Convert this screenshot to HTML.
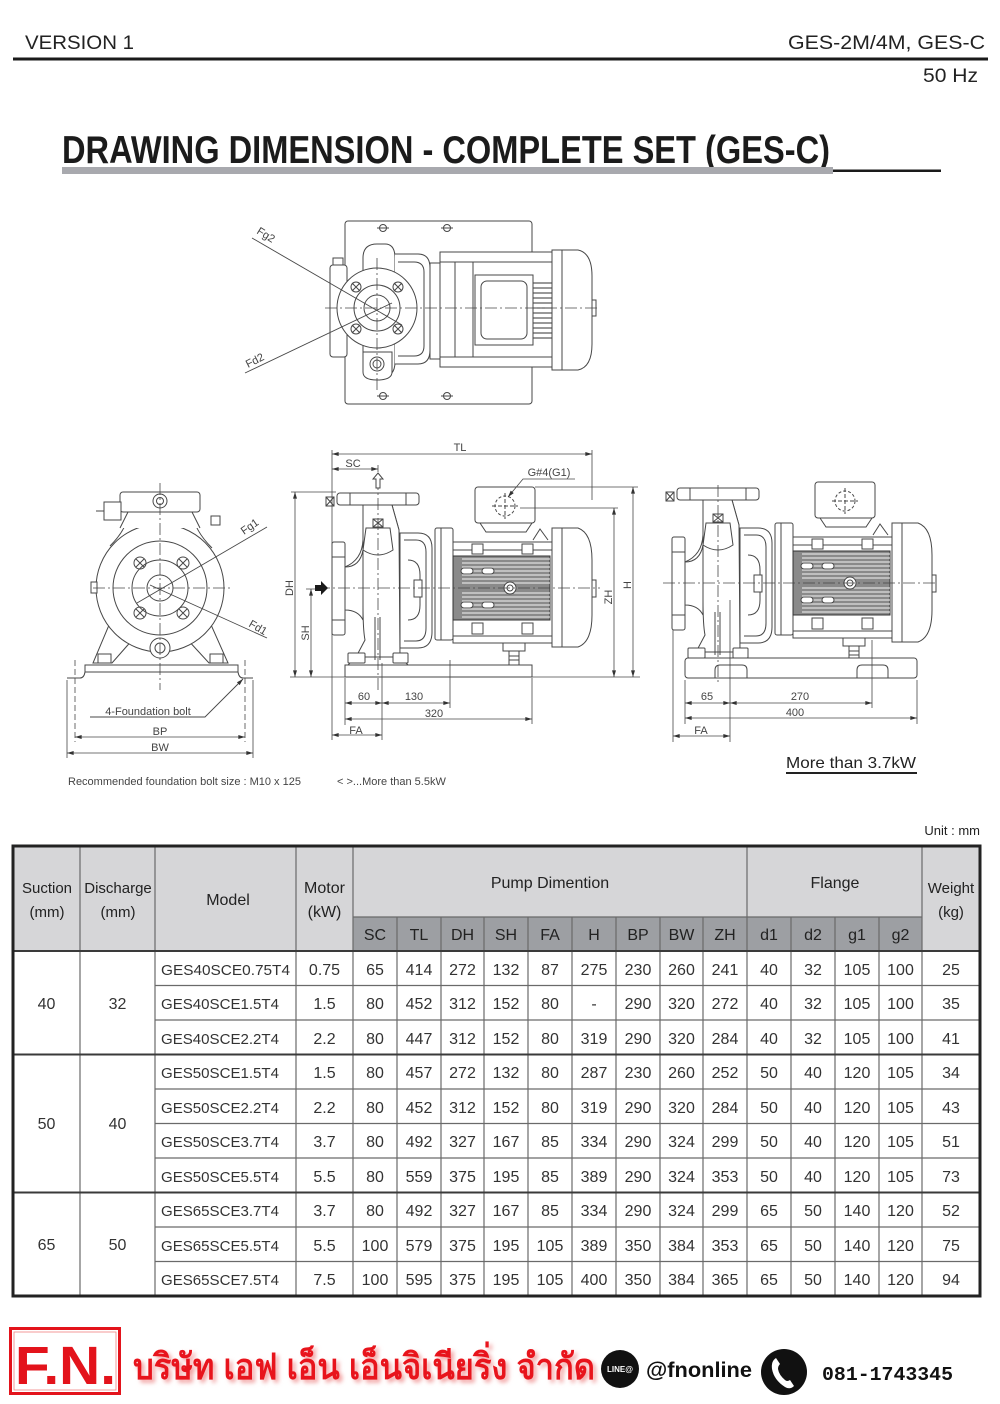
<!DOCTYPE html>
<html><head><meta charset="utf-8"><style>
html,body{margin:0;padding:0;background:#fff;}
body{width:1000px;height:1404px;overflow:hidden;position:relative;}
svg{position:absolute;left:0;top:0;}
.t{font-family:"Liberation Sans",sans-serif;}
</style></head><body>
<svg width="1000" height="1404" viewBox="0 0 1000 1404" xmlns="http://www.w3.org/2000/svg" class="t">
<defs>
<marker id="ar" viewBox="0 0 10 6" refX="10" refY="3" markerWidth="7" markerHeight="4" markerUnits="userSpaceOnUse" orient="auto-start-reverse"><path d="M0,0L10,3L0,6z" fill="#333"/></marker>
<filter id="sh" x="-5%" y="-20%" width="110%" height="140%"><feGaussianBlur stdDeviation="2"/></filter>
<g id="pump" fill="#fff" stroke="#474747" stroke-width="1">
  <!-- outlet flange -->
  <path d="M363,505 L363,540 Q362,560 345,567 M392,505 L399,530"/>
  <rect x="337" y="493" width="82" height="12" rx="3"/>
  <line x1="350" y1="493" x2="350" y2="505"/><line x1="406" y1="493" x2="406" y2="505"/>
  <rect x="326" y="497" width="8" height="9"/><path d="M326,497L334,506M334,497L326,506" fill="none"/>
  <!-- inlet neck -->
  <path d="M345,567 Q360,567 363,550 L363,620 Q358,610 345,610 Z"/>
  <!-- casing -->
  <path d="M363,505 L392,505 L399,530 L400,657 L356,657 L365,640 Q363,630 363,605 Z"/>
  <path d="M356,657 L348,665 M400,657 L408,665" fill="none"/>
  <rect x="348" y="653" width="17" height="10" rx="1"/>
  <rect x="393" y="653" width="15" height="10" rx="1"/>
  <path d="M366,528 L390,528 L393,550 Q378,560 363,550 Z"/>
  <rect x="373" y="519" width="10" height="8"/><path d="M373,519L383,527M383,519L373,527" fill="none"/>
  <line x1="375" y1="617" x2="375" y2="660"/><line x1="380" y1="617" x2="380" y2="660"/>
  <!-- inlet flange -->
  <rect x="332" y="542" width="13" height="93" rx="2"/>
  <line x1="332" y1="557" x2="345" y2="557"/><line x1="332" y1="620" x2="345" y2="620"/>
  <!-- bracket -->
  <path d="M400,533 L418,533 Q432,533 432,548 L432,632 Q432,648 418,648 L400,648 Z"/>
  <path d="M404,540 L416,540 Q426,540 426,552 L426,628 Q426,641 416,641 L404,641" fill="none"/>
  <path d="M408,560 Q420,560 420,575 L420,605 Q420,620 408,620" fill="none"/>
  <rect x="414" y="580" width="8" height="17"/>
  <!-- motor flange -->
  <rect x="435" y="528" width="18" height="112" rx="2"/>
  <line x1="441" y1="528" x2="441" y2="640"/>
  <!-- motor body -->
  <rect x="453" y="542" width="99" height="101"/>
  <line x1="453" y1="550" x2="552" y2="550"/>
  <line x1="453" y1="636" x2="552" y2="636"/>
  <rect x="472" y="544" width="11" height="10"/><rect x="522" y="544" width="11" height="10"/>
  <rect x="472" y="623" width="11" height="11"/><rect x="522" y="623" width="11" height="11"/>
  <rect x="453" y="556" width="97" height="64" fill="#8a8a8a" stroke="#333"/>
  <g stroke="#f4f4f4" stroke-width="1.1">
   <line x1="462" y1="559" x2="550" y2="559"/><line x1="462" y1="563" x2="550" y2="563"/>
   <line x1="462" y1="567" x2="550" y2="567"/><line x1="462" y1="571" x2="550" y2="571"/>
   <line x1="462" y1="575" x2="550" y2="575"/><line x1="462" y1="579" x2="550" y2="579"/>
   <line x1="462" y1="583" x2="550" y2="583"/><line x1="462" y1="593" x2="550" y2="593"/>
   <line x1="462" y1="597" x2="550" y2="597"/><line x1="462" y1="601" x2="550" y2="601"/>
   <line x1="462" y1="605" x2="550" y2="605"/><line x1="462" y1="609" x2="550" y2="609"/>
   <line x1="462" y1="613" x2="550" y2="613"/><line x1="462" y1="617" x2="550" y2="617"/>
  </g>
  <rect x="461" y="568" width="12" height="6" rx="3"/><rect x="482" y="568" width="12" height="6" rx="3"/>
  <rect x="461" y="602" width="12" height="6" rx="3"/><rect x="482" y="602" width="12" height="6" rx="3"/>
  <circle cx="510" cy="588" r="6"/><circle cx="510" cy="588" r="3"/>
  <!-- terminal box -->
  <path d="M480,523 L486,532 L526,532 L532,523 Z"/>
  <rect x="475" y="487" width="60" height="36" rx="3"/>
  <circle cx="505" cy="506" r="10" fill="none" stroke-dasharray="3,2"/>
  <line x1="492" y1="506" x2="518" y2="506" stroke-dasharray="4,2"/><line x1="505" y1="493" x2="505" y2="519" stroke-dasharray="4,2"/>
  <path d="M533,540 L540,529 L548,540" />
  <!-- fan cover -->
  <path d="M552,528 L578,528 Q592,533 592,560 L592,615 Q592,642 578,647 L552,647 Z"/>
  <line x1="562" y1="528" x2="562" y2="647"/>
  <rect x="592" y="580" width="4" height="17"/>
  <!-- motor foot -->
  <rect x="503" y="643" width="22" height="8"/>
  <rect x="509" y="651" width="10" height="14"/>
  <line x1="509" y1="656" x2="519" y2="656"/><line x1="509" y1="660" x2="519" y2="660"/>
</g>
</defs>

<!-- HEADER -->
<text x="25" y="49" font-size="19" fill="#222" textLength="109" lengthAdjust="spacingAndGlyphs">VERSION 1</text>
<text x="788" y="49" font-size="19" fill="#222" textLength="197" lengthAdjust="spacingAndGlyphs">GES-2M/4M, GES-C</text>
<rect x="13" y="57.5" width="975" height="3" fill="#1a1a1a"/>
<text x="923" y="82" font-size="19" fill="#222" textLength="55" lengthAdjust="spacingAndGlyphs">50 Hz</text>

<!-- TITLE -->
<text x="62" y="163" font-size="39" font-weight="bold" fill="#1b1b1b" textLength="768" lengthAdjust="spacingAndGlyphs">DRAWING DIMENSION - COMPLETE SET (GES-C)</text>
<rect x="62" y="167" width="771" height="7" fill="#a8a9ae"/>
<rect x="833" y="169.5" width="108" height="2.5" fill="#1a1a1a"/>

<!-- TOP VIEW -->
<g fill="none" stroke="#474747" stroke-width="1">
  <rect x="345" y="221" width="187" height="183" rx="3" fill="#fff"/>
  <circle cx="383" cy="228" r="3.5"/><circle cx="447" cy="228" r="3.5"/>
  <circle cx="383" cy="396" r="3.5"/><circle cx="447" cy="396" r="3.5"/>
  <path d="M377,228h12M441,228h12M377,396h12M441,396h12"/>
  <rect x="330" y="265" width="17" height="92" rx="3" fill="#fff"/>
  <rect x="333" y="258" width="10" height="7" fill="#fff"/>
  <path d="M363,258 Q363,244 377,244 L385,244 Q395,244 395,258 L395,362 Q395,378 379,378 Q363,378 363,362 Z" fill="#fff"/>
  <path d="M395,254 L418,254 Q430,254 430,268 L430,350 Q430,364 418,364 L395,364" fill="#fff"/>
  <path d="M398,262 L414,262 Q424,262 424,272 L424,346 Q424,356 414,356 L398,356"/>
  <rect x="430" y="263" width="10" height="96" fill="#fff"/>
  <rect x="440" y="252" width="112" height="115" fill="#fff"/>
  <line x1="440" y1="262" x2="552" y2="262"/><line x1="440" y1="357" x2="552" y2="357"/>
  <rect x="455" y="262" width="18" height="95"/>
  <g stroke="#333"><path d="M533,283h19M533,288h19M533,293h19M533,298h19M533,303h19M533,308h19M533,313h19M533,318h19M533,323h19M533,328h19M533,333h19M533,338h19"/></g>
  <rect x="475" y="275" width="58" height="70" fill="#fff"/>
  <rect x="481" y="281" width="46" height="58" rx="6"/>
  <path d="M552,250 L578,250 Q592,253 592,276 L592,344 Q592,367 578,370 L552,370 Z" fill="#fff"/>
  <line x1="562" y1="250" x2="562" y2="370"/>
  <rect x="592" y="300" width="4" height="16"/>
  <path d="M363,352 L392,352 L392,372 Q392,380 377,380 Q363,380 363,372 Z" fill="#fff"/>
  <circle cx="377" cy="364" r="7" fill="#fff"/><circle cx="377" cy="364" r="4"/>
  <circle cx="377" cy="308" r="40" fill="#fff"/>
  <circle cx="377" cy="308" r="23"/><circle cx="377" cy="308" r="13"/>
  <circle cx="356" cy="287" r="5"/><circle cx="398" cy="287" r="5"/><circle cx="356" cy="329" r="5"/><circle cx="398" cy="329" r="5"/>
  <path d="M352,283l8,8M360,283l-8,8M394,283l8,8M402,283l-8,8M352,325l8,8M360,325l-8,8M394,325l8,8M402,325l-8,8"/>
  <path d="M325,308H600M377,258V392" stroke-dasharray="12,3,2,3" stroke-width="0.8"/>
  <line x1="252" y1="238" x2="402" y2="325" stroke-width="0.9"/>
  <line x1="245" y1="373" x2="392" y2="303" stroke-width="0.9"/>
</g>
<text transform="translate(256,233) rotate(32)" font-size="11" fill="#444">Fg2</text>
<text transform="translate(248,368) rotate(-27)" font-size="11" fill="#444">Fd2</text>

<!-- LEFT FRONT VIEW -->
<g fill="none" stroke="#474747" stroke-width="1">
  <path d="M112,618 L93,663 L112,663 L134,638" fill="#fff"/>
  <path d="M208,618 L228,663 L209,663 L186,638" fill="#fff"/>
  <path d="M128,512 Q128,528 110,546 M192,512 Q194,530 212,548" />
  <circle cx="160" cy="588" r="64" fill="#fff"/>
  <path d="M120,528 L128,512 L192,512 L200,528" fill="#fff"/>
  <rect x="120" y="492" width="80" height="20" rx="3" fill="#fff"/>
  <circle cx="160" cy="501" r="7" fill="#fff"/><circle cx="160" cy="501" r="3.5"/>
  <rect x="104" y="502" width="17" height="18" fill="#fff"/>
  <line x1="96" y1="511" x2="104" y2="511"/>
  <rect x="211" y="516" width="9" height="9" fill="#fff"/>
  <rect x="91" y="582" width="6" height="11" fill="#fff"/>
  <circle cx="160" cy="588" r="47"/><circle cx="160" cy="588" r="28"/><circle cx="160" cy="588" r="13"/>
  <circle cx="140" cy="563" r="6"/><circle cx="183" cy="563" r="6"/><circle cx="140" cy="613" r="6"/><circle cx="183" cy="613" r="6"/>
  <path d="M136,559l8,8M144,559l-8,8M179,559l8,8M187,559l-8,8M136,609l8,8M144,609l-8,8M179,609l8,8M187,609l-8,8"/>
  <circle cx="160" cy="648" r="10" fill="#fff"/><circle cx="160" cy="648" r="5"/>
  <rect x="98" y="654" width="13" height="9" fill="#fff"/><rect x="210" y="654" width="13" height="9" fill="#fff"/>
  <path d="M67,678 L80,678 Q84,678 85,672 L85,665 L238,665 L238,672 Q239,678 243,678 L253,678"/>
  <line x1="85" y1="672" x2="238" y2="672"/>
  <path d="M93,588H232M160,483V690" stroke-dasharray="12,3,2,3" stroke-width="0.8"/>
  <path d="M75,660V742M245,660V742" stroke-dasharray="6,3" stroke-width="0.8"/>
  <path d="M67,680V758M253,680V758" stroke-width="0.8"/>
  <line x1="137" y1="603" x2="267" y2="527" stroke-width="0.9"/>
  <line x1="150" y1="585" x2="267" y2="638" stroke-width="0.9"/>
  <path d="M90,717H205L243,679" stroke-width="0.9" marker-end="url(#ar)"/>
  <line x1="75" y1="737" x2="245" y2="737" stroke-width="0.8" marker-start="url(#ar)" marker-end="url(#ar)"/>
  <line x1="67" y1="753" x2="253" y2="753" stroke-width="0.8" marker-start="url(#ar)" marker-end="url(#ar)"/>
</g>
<text transform="translate(244,535) rotate(-35)" font-size="11" fill="#444">Fg1</text>
<text transform="translate(248,626) rotate(30)" font-size="11" fill="#444">Fd1</text>
<g font-size="11" fill="#444" text-anchor="middle">
<text x="148" y="715">4-Foundation bolt</text>
<text x="160" y="735">BP</text>
<text x="160" y="751">BW</text>
</g>
<text x="68" y="785" font-size="11" fill="#444">Recommended foundation bolt size : M10 x 125</text>
<text x="337" y="785" font-size="11" fill="#444">&lt; &gt;...More than 5.5kW</text>

<!-- MIDDLE SIDE VIEW -->
<use href="#pump"/>
<g fill="none" stroke="#474747" stroke-width="1">
  <rect x="345" y="665" width="187" height="12" fill="#fff"/>
  <path d="M318,588H600M378,478V692" stroke-dasharray="12,3,2,3" stroke-width="0.8"/>
  <g stroke-width="0.8">
  <path d="M332,450V740M592,450V500M378,465V472M291,492H336M290,677H640M306,589H318M535,487H638M520,508H618M345,678V725M382,663V740M450,660V708M532,678V724"/>
  <line x1="332" y1="454" x2="592" y2="454" marker-start="url(#ar)" marker-end="url(#ar)"/>
  <line x1="332" y1="469" x2="378" y2="469" marker-start="url(#ar)" marker-end="url(#ar)"/>
  <line x1="295" y1="492" x2="295" y2="677" marker-start="url(#ar)" marker-end="url(#ar)"/>
  <line x1="311" y1="589" x2="311" y2="677" marker-start="url(#ar)" marker-end="url(#ar)"/>
  <line x1="633" y1="487" x2="633" y2="677" marker-start="url(#ar)" marker-end="url(#ar)"/>
  <line x1="614" y1="508" x2="614" y2="677" marker-start="url(#ar)" marker-end="url(#ar)"/>
  <line x1="345" y1="703" x2="382" y2="703" marker-start="url(#ar)" marker-end="url(#ar)"/>
  <line x1="382" y1="703" x2="450" y2="703" marker-start="url(#ar)" marker-end="url(#ar)"/>
  <line x1="345" y1="719" x2="532" y2="719" marker-start="url(#ar)" marker-end="url(#ar)"/>
  <line x1="332" y1="735" x2="382" y2="735" marker-start="url(#ar)" marker-end="url(#ar)"/>
  <path d="M575,479H523L508,497" marker-end="url(#ar)"/>
  </g>
  <path d="M378,473 L383,479 L380,479 L380,488 L376,488 L376,479 L373,479 Z" fill="#fff"/>
</g>
<path d="M315,585 L321,585 L321,581 L328,588 L321,595 L321,591 L315,591 Z" fill="#1a1a1a"/>
<g font-size="11" fill="#444" text-anchor="middle">
<text x="460" y="451">TL</text>
<text x="353" y="467">SC</text>
<text x="549" y="476">G#4(G1)</text>
<text x="364" y="700">60</text>
<text x="414" y="700">130</text>
<text x="434" y="717">320</text>
<text x="356" y="734">FA</text>
<text transform="translate(293,588) rotate(-90)">DH</text>
<text transform="translate(309,633) rotate(-90)">SH</text>
<text transform="translate(612,597) rotate(-90)">ZH</text>
<text transform="translate(631,585) rotate(-90)">H</text>
</g>

<!-- RIGHT VIEW -->
<use href="#pump" transform="translate(340,-5)"/>
<g fill="none" stroke="#474747" stroke-width="1">
  <rect x="685" y="658" width="232" height="20" rx="3" fill="#fff"/>
  <path d="M715,678 L715,670 Q715,665 720,665 L742,665 Q747,665 747,670 L747,678 M857,678 L857,670 Q857,665 862,665 L883,665 Q888,665 888,670 L888,678"/>
  <path d="M663,583H937M718,485V682" stroke-dasharray="12,3,2,3" stroke-width="0.8"/>
  <g stroke-width="0.8">
  <path d="M673,630V742M685,680V724M730,600V742M872,640V708M917,680V724"/>
  <line x1="685" y1="703" x2="730" y2="703" marker-start="url(#ar)" marker-end="url(#ar)"/>
  <line x1="730" y1="703" x2="872" y2="703" marker-start="url(#ar)" marker-end="url(#ar)"/>
  <line x1="685" y1="718" x2="917" y2="718" marker-start="url(#ar)" marker-end="url(#ar)"/>
  <line x1="673" y1="736" x2="730" y2="736" marker-start="url(#ar)" marker-end="url(#ar)"/>
  </g>
</g>
<g font-size="11" fill="#444" text-anchor="middle">
<text x="707" y="700">65</text>
<text x="800" y="700">270</text>
<text x="795" y="716">400</text>
<text x="701" y="734">FA</text>
</g>
<text x="786" y="768" font-size="16" fill="#222" textLength="130" lengthAdjust="spacingAndGlyphs">More than 3.7kW</text>
<rect x="786" y="772" width="131" height="2" fill="#222"/>

<!-- TABLE -->
<text x="980" y="835" font-size="13" fill="#222" text-anchor="end">Unit : mm</text>
<rect x="13" y="846" width="967" height="105" fill="#d6d6d8"/>
<rect x="353" y="917" width="569" height="34" fill="#9d9fa3"/>
<g stroke="#6a6a6a" stroke-width="1.2" fill="none">
  <path d="M353,917H922"/>
  <path d="M397,917V1296M441,917V1296M484,917V1296M528,917V1296M572,917V1296M616,917V1296M660,917V1296M703,917V1296M791,917V1296M835,917V1296M879,917V1296"/>
  <path d="M80,846V1296M155,846V1296M296,846V1296M353,846V1296M747,846V1296M922,846V1296"/>
  <path d="M155,985.5H980M155,1020H980M155,1089H980M155,1123.5H980M155,1158H980M155,1227H980M155,1261.5H980"/>
</g>
<g stroke="#3a3a3a" stroke-width="2" fill="none">
  <path d="M13,951H980M13,1054.5H980M13,1192.5H980"/>
</g>
<rect x="13" y="846" width="967" height="450" fill="none" stroke="#222" stroke-width="3"/>
<g font-size="15" fill="#222" text-anchor="middle">
  <text x="47" y="893">Suction</text><text x="47" y="917">(mm)</text>
  <text x="118" y="893">Discharge</text><text x="118" y="917">(mm)</text>
  <text x="228" y="905" font-size="16">Model</text>
  <text x="324.5" y="893" font-size="16">Motor</text><text x="324.5" y="917" font-size="16">(kW)</text>
  <text x="550" y="888" font-size="16">Pump Dimention</text>
  <text x="835" y="888" font-size="16">Flange</text>
  <text x="951" y="893">Weight</text><text x="951" y="917">(kg)</text>
  <g font-size="16">
  <text x="375" y="940">SC</text><text x="419" y="940">TL</text><text x="462.5" y="940">DH</text><text x="506" y="940">SH</text><text x="550" y="940">FA</text><text x="594" y="940">H</text><text x="638" y="940">BP</text><text x="681.5" y="940">BW</text><text x="725" y="940">ZH</text><text x="769" y="940">d1</text><text x="813" y="940">d2</text><text x="857" y="940">g1</text><text x="900.5" y="940">g2</text>
  </g>
</g>
<g font-size="16" fill="#333" text-anchor="middle">
  <text x="46.5" y="1009">40</text><text x="117.5" y="1009">32</text>
  <text x="46.5" y="1129">50</text><text x="117.5" y="1129">40</text>
  <text x="46.5" y="1250">65</text><text x="117.5" y="1250">50</text>
</g>
<g font-size="15" fill="#333">
  <text x="161" y="975" textLength="129" lengthAdjust="spacingAndGlyphs">GES40SCE0.75T4</text>
  <text x="161" y="1009" textLength="118" lengthAdjust="spacingAndGlyphs">GES40SCE1.5T4</text>
  <text x="161" y="1044" textLength="118" lengthAdjust="spacingAndGlyphs">GES40SCE2.2T4</text>
  <text x="161" y="1078" textLength="118" lengthAdjust="spacingAndGlyphs">GES50SCE1.5T4</text>
  <text x="161" y="1113" textLength="118" lengthAdjust="spacingAndGlyphs">GES50SCE2.2T4</text>
  <text x="161" y="1147" textLength="118" lengthAdjust="spacingAndGlyphs">GES50SCE3.7T4</text>
  <text x="161" y="1182" textLength="118" lengthAdjust="spacingAndGlyphs">GES50SCE5.5T4</text>
  <text x="161" y="1216" textLength="118" lengthAdjust="spacingAndGlyphs">GES65SCE3.7T4</text>
  <text x="161" y="1251" textLength="118" lengthAdjust="spacingAndGlyphs">GES65SCE5.5T4</text>
  <text x="161" y="1285" textLength="118" lengthAdjust="spacingAndGlyphs">GES65SCE7.5T4</text>
</g>
<g font-size="16" fill="#333" text-anchor="middle">
<g transform="translate(0,975)"><text x="324.5">0.75</text><text x="375">65</text><text x="419">414</text><text x="462.5">272</text><text x="506">132</text><text x="550">87</text><text x="594">275</text><text x="638">230</text><text x="681.5">260</text><text x="725">241</text><text x="769">40</text><text x="813">32</text><text x="857">105</text><text x="900.5">100</text><text x="951">25</text></g>
<g transform="translate(0,1009)"><text x="324.5">1.5</text><text x="375">80</text><text x="419">452</text><text x="462.5">312</text><text x="506">152</text><text x="550">80</text><text x="594">-</text><text x="638">290</text><text x="681.5">320</text><text x="725">272</text><text x="769">40</text><text x="813">32</text><text x="857">105</text><text x="900.5">100</text><text x="951">35</text></g>
<g transform="translate(0,1044)"><text x="324.5">2.2</text><text x="375">80</text><text x="419">447</text><text x="462.5">312</text><text x="506">152</text><text x="550">80</text><text x="594">319</text><text x="638">290</text><text x="681.5">320</text><text x="725">284</text><text x="769">40</text><text x="813">32</text><text x="857">105</text><text x="900.5">100</text><text x="951">41</text></g>
<g transform="translate(0,1078)"><text x="324.5">1.5</text><text x="375">80</text><text x="419">457</text><text x="462.5">272</text><text x="506">132</text><text x="550">80</text><text x="594">287</text><text x="638">230</text><text x="681.5">260</text><text x="725">252</text><text x="769">50</text><text x="813">40</text><text x="857">120</text><text x="900.5">105</text><text x="951">34</text></g>
<g transform="translate(0,1113)"><text x="324.5">2.2</text><text x="375">80</text><text x="419">452</text><text x="462.5">312</text><text x="506">152</text><text x="550">80</text><text x="594">319</text><text x="638">290</text><text x="681.5">320</text><text x="725">284</text><text x="769">50</text><text x="813">40</text><text x="857">120</text><text x="900.5">105</text><text x="951">43</text></g>
<g transform="translate(0,1147)"><text x="324.5">3.7</text><text x="375">80</text><text x="419">492</text><text x="462.5">327</text><text x="506">167</text><text x="550">85</text><text x="594">334</text><text x="638">290</text><text x="681.5">324</text><text x="725">299</text><text x="769">50</text><text x="813">40</text><text x="857">120</text><text x="900.5">105</text><text x="951">51</text></g>
<g transform="translate(0,1182)"><text x="324.5">5.5</text><text x="375">80</text><text x="419">559</text><text x="462.5">375</text><text x="506">195</text><text x="550">85</text><text x="594">389</text><text x="638">290</text><text x="681.5">324</text><text x="725">353</text><text x="769">50</text><text x="813">40</text><text x="857">120</text><text x="900.5">105</text><text x="951">73</text></g>
<g transform="translate(0,1216)"><text x="324.5">3.7</text><text x="375">80</text><text x="419">492</text><text x="462.5">327</text><text x="506">167</text><text x="550">85</text><text x="594">334</text><text x="638">290</text><text x="681.5">324</text><text x="725">299</text><text x="769">65</text><text x="813">50</text><text x="857">140</text><text x="900.5">120</text><text x="951">52</text></g>
<g transform="translate(0,1251)"><text x="324.5">5.5</text><text x="375">100</text><text x="419">579</text><text x="462.5">375</text><text x="506">195</text><text x="550">105</text><text x="594">389</text><text x="638">350</text><text x="681.5">384</text><text x="725">353</text><text x="769">65</text><text x="813">50</text><text x="857">140</text><text x="900.5">120</text><text x="951">75</text></g>
<g transform="translate(0,1285)"><text x="324.5">7.5</text><text x="375">100</text><text x="419">595</text><text x="462.5">375</text><text x="506">195</text><text x="550">105</text><text x="594">400</text><text x="638">350</text><text x="681.5">384</text><text x="725">365</text><text x="769">65</text><text x="813">50</text><text x="857">140</text><text x="900.5">120</text><text x="951">94</text></g>
</g>

<!-- FOOTER -->
<rect x="10.5" y="1328.5" width="109" height="65" fill="#fff" stroke="#e3131b" stroke-width="3"/>
<rect x="14" y="1332" width="102" height="58" fill="none" stroke="#f08080" stroke-width="0.8"/>
<text x="15" y="1384" font-size="54" font-weight="bold" fill="#e3131b" textLength="101" lengthAdjust="spacingAndGlyphs">F.N.</text>
<text x="136" y="1382" font-size="36" font-weight="bold" fill="#f2a0a0" filter="url(#sh)" textLength="462" lengthAdjust="spacingAndGlyphs">บริษัท เอฟ เอ็น เอ็นจิเนียริ่ง จำกัด</text>
<text x="133" y="1379" font-size="36" font-weight="bold" fill="#e8141c" textLength="462" lengthAdjust="spacingAndGlyphs">บริษัท เอฟ เอ็น เอ็นจิเนียริ่ง จำกัด</text>
<circle cx="620" cy="1369" r="19" fill="#111"/>
<text x="620" y="1372" font-size="8" font-weight="bold" fill="#fff" text-anchor="middle">LINE@</text>
<text x="646" y="1377" font-size="21" font-weight="bold" fill="#111" textLength="106" lengthAdjust="spacingAndGlyphs">@fnonline</text>
<circle cx="784" cy="1372" r="23" fill="#111"/>
<path d="M776,1358 Q771,1361 772,1369 Q774,1380 785,1387 Q790,1390 794,1386 L790,1380 Q787,1382 785,1380 Q779,1375 778,1369 Q778,1366 780,1364 Z" fill="#fff"/>
<text x="822" y="1380" font-size="19" font-weight="bold" fill="#111" font-family="'Liberation Mono',monospace" textLength="131" lengthAdjust="spacingAndGlyphs">081-1743345</text>
</svg>
</body></html>
